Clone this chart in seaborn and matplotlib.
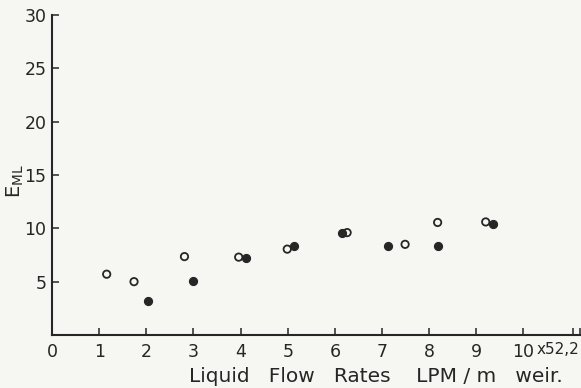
import matplotlib
matplotlib.use("Agg")
import matplotlib.pyplot as plt
import seaborn as sns
import pandas as pd

# Measured points: open circles and filled circles
open_x = [1.16, 1.74, 2.81, 3.96, 4.99, 6.26, 7.49, 8.18, 9.20]
open_y = [5.7, 5.0, 7.35, 7.3, 8.05, 9.6, 8.5, 10.55, 10.6]
filled_x = [2.04, 3.00, 4.12, 5.13, 6.15, 7.12, 8.18, 9.35]
filled_y = [3.2, 5.1, 7.25, 8.3, 9.6, 8.3, 8.3, 10.45]

x_ticks = [0, 1, 2, 3, 4, 5, 6, 7, 8, 9, 10]
y_ticks = [5, 10, 15, 20, 25, 30]

open_df = pd.DataFrame({"flow": open_x, "eml": open_y})
filled_df = pd.DataFrame({"flow": filled_x, "eml": filled_y})

sns.set_style("ticks")
plt.rcParams["font.family"] = ["DejaVu Sans"]

ink = "#262626"
paper = "#f6f6f2"

fig = plt.figure(figsize=(5.81, 3.88), dpi=100, facecolor=paper)
ax = fig.add_axes([52 / 581, 1 - 335 / 388, (580 - 52) / 581, (335 - 15) / 388])
ax.set_facecolor(paper)

sns.scatterplot(data=open_df, x="flow", y="eml", ax=ax, marker="o", s=28,
                facecolor="none", edgecolor=ink, linewidth=1.3, zorder=3)
sns.scatterplot(data=filled_df, x="flow", y="eml", ax=ax, marker="o", s=34,
                color=ink, edgecolor=ink, linewidth=0.8, zorder=3)

ax.set_xlim(0, 11.2)
ax.set_ylim(0, 30)
ax.set_xticks(x_ticks)
ax.set_xticks([11.06, 11.2], minor=True)
ax.set_yticks(y_ticks)
ax.tick_params(axis="both", which="both", direction="in", length=5, width=1.1,
               color=ink, labelcolor=ink, labelsize=12.5, pad=4)
ax.tick_params(axis="x", pad=6)

for side in ("top", "right"):
    ax.spines[side].set_visible(False)
for side in ("left", "bottom"):
    ax.spines[side].set_linewidth(1.5)
    ax.spines[side].set_color(ink)

ax.set_xlabel("")
ax.set_ylabel("")

# Scale factor written after the last labelled tick
fig.text(537 / 581, 1 - 349 / 388, "x52,2", fontsize=11, color=ink,
         ha="left", va="center")

fig.text(376 / 581, 1 - 376 / 388, "Liquid   Flow   Rates    LPM / m   weir.",
         fontsize=14.5, color=ink, ha="center", va="center")
fig.text(15 / 581, 1 - 181 / 388, r"$\mathsf{E_{ML}}$", rotation=90,
         fontsize=14, color=ink, ha="center", va="center")

fig.savefig("out.png", dpi=100, facecolor=paper)
